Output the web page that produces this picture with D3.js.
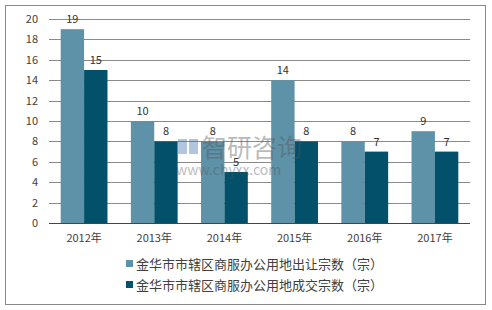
<!DOCTYPE html>
<html>
<head>
<meta charset="utf-8">
<script src="https://cdn.jsdelivr.net/npm/d3@7"></script>
<style>
  body { margin: 0; background: #fff; }
  text { font-family: "Noto Sans CJK SC", "Noto Sans", sans-serif; }
</style>
</head>
<body>
<svg id="chart" width="492" height="310"></svg>
<script>
var years = ["2012年", "2013年", "2014年", "2015年", "2016年", "2017年"]
var supplied = [19, 10, 8, 14, 8, 9]
var traded = [15, 8, 5, 8, 7, 7]
var seriesNames = ["金华市市辖区商服办公用地出让宗数（宗）", "金华市市辖区商服办公用地成交宗数（宗）"]
var yTicks = [0, 2, 4, 6, 8, 10, 12, 14, 16, 18, 20]
var colors = ["#5e92a8", "#03506a"]

var svg = d3.select("#chart"),
    margin = {top: 19, right: 22, bottom: 87, left: 49},
    width  = +svg.attr("width")  - margin.left - margin.right,
    height = +svg.attr("height") - margin.top  - margin.bottom;

// outer frame
svg.append("rect")
  .attr("x", 5.5).attr("y", 5.5)
  .attr("width", 480).attr("height", 299)
  .attr("fill", "#fff")
  .attr("stroke", "#888")
  .attr("stroke-width", 1);

var g = svg.append("g")
  .attr("transform", "translate(" + margin.left + "," + margin.top + ")");

var x = d3.scaleBand().domain(years).range([0, width]).paddingInner(0).paddingOuter(0);
var x1 = d3.scaleBand().domain([0, 1]).range([0, x.bandwidth()]).paddingInner(0).paddingOuter(0.5);
var y = d3.scaleLinear().domain([0, 20]).range([height, 0]);

// grid lines
g.selectAll(".grid")
  .data(yTicks)
  .enter().append("line")
    .attr("x1", 0).attr("x2", width)
    .attr("y1", function(d) { return Math.round(y(d)) + 0.5; })
    .attr("y2", function(d) { return Math.round(y(d)) + 0.5; })
    .attr("stroke", function(d) { return d == 0 ? "#444" : "#8a8a8a"; })
    .attr("stroke-width", 1);

var yAxis = d3.axisLeft(y).tickValues(yTicks).tickSize(0).tickPadding(11);
var yg = g.append("g").call(yAxis);
yg.select(".domain").remove();
yg.selectAll("text").attr("font-size", 11).attr("fill", "#404040");

var xAxis = d3.axisBottom(x).tickSize(0).tickPadding(11);
var xg = g.append("g").attr("transform", "translate(0," + height + ")").call(xAxis);
xg.select(".domain").remove();
xg.selectAll("text").attr("font-size", 11).attr("fill", "#404040");

var series = [supplied, traded];

series.forEach(function(vals, si) {
  g.selectAll(".bar" + si)
    .data(vals)
    .enter().append("rect")
      .attr("x", function(d, i) { return x(years[i]) + x1(si); })
      .attr("y", function(d) { return y(d); })
      .attr("width", x1.bandwidth())
      .attr("height", function(d) { return height - y(d); })
      .attr("fill", colors[si]);

  g.selectAll(".lab" + si)
    .data(vals)
    .enter().append("text")
      .attr("x", function(d, i) { return x(years[i]) + x1(si) + x1.bandwidth() / 2; })
      .attr("y", function(d) { return y(d) - 6; })
      .attr("text-anchor", "middle")
      .attr("font-size", 11)
      .attr("fill", "#333")
      .text(function(d) { return d; });
});

// watermark
var wm = svg.append("g").attr("opacity", 0.4);
wm.append("rect").attr("x", 178).attr("y", 139).attr("width", 9).attr("height", 15).attr("fill", "#3f6fb0");
wm.append("rect").attr("x", 189).attr("y", 139).attr("width", 9).attr("height", 15).attr("fill", "#3f6fb0");
wm.append("text").attr("x", 202).attr("y", 157).attr("font-size", 25).attr("fill", "#555").text("智研咨询");
wm.append("text").attr("x", 176).attr("y", 175).attr("font-size", 14).attr("fill", "#555")
  .attr("font-family", "DejaVu Sans").text("www.chyxx.com");

// legend
var legend = svg.selectAll(".legend")
  .data(seriesNames)
  .enter().append("g")
    .attr("transform", function(d, i) { return "translate(126," + (264 + i * 21) + ")"; });

legend.append("rect")
  .attr("x", 0).attr("y", -4)
  .attr("width", 7).attr("height", 7)
  .attr("fill", function(d, i) { return colors[i]; });

legend.append("text")
  .attr("x", 10).attr("y", 0)
  .attr("dy", "0.35em")
  .attr("font-size", 13)
  .attr("fill", "#404040")
  .text(function(d) { return d; });
</script>
</body>
</html>
